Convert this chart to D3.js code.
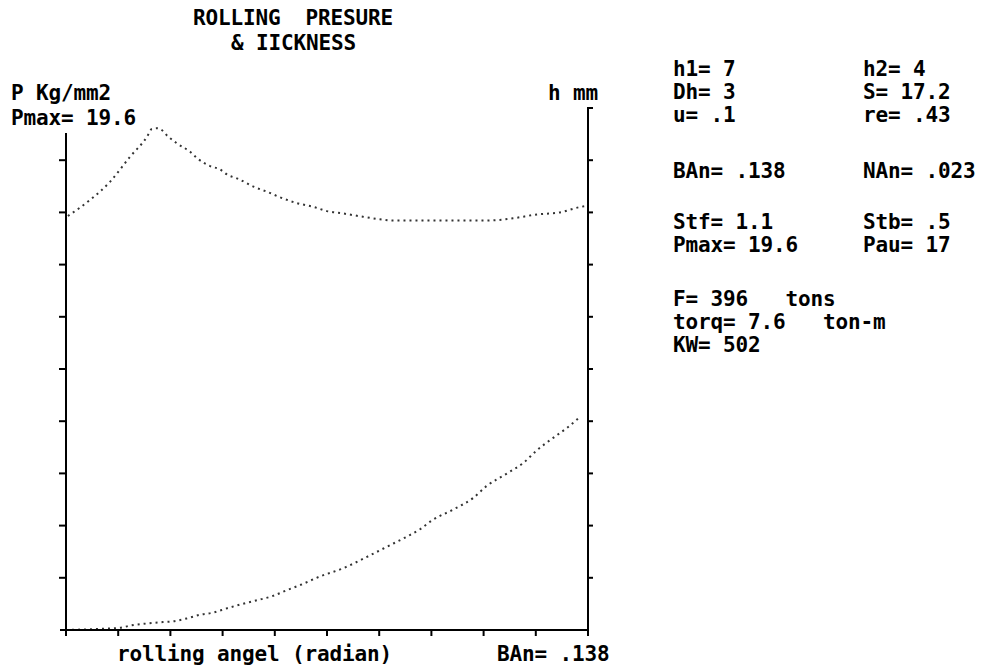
<!DOCTYPE html>
<html><head><meta charset="utf-8">
<script src="https://cdn.jsdelivr.net/npm/d3@7"></script>
<style>
html,body{margin:0;padding:0;background:#fff;}
svg text{font-family:"DejaVu Sans Mono",monospace;font-weight:bold;font-size:21px;letter-spacing:-0.14px;fill:#000;white-space:pre;}
</style></head><body><svg id="c" width="981" height="669"></svg>
<script>
// ---- data ----
const angleMax = 0.138;            // BAn, entry angle (radian)
const pressureMax = 20.4;          // P axis top (Kg/mm2)
const thickMin = 4, thickMax = 11.2; // h axis range (mm)

const pressureAngle = [0.0005,0.0063,0.0116,0.0169,0.0214,0.0227,0.0241,0.0249,0.0270,0.0293,0.0328,0.0349,0.0381,0.0407,0.0428,0.0452,0.0500,0.0531,0.0566,0.0611,0.0653,0.0690,0.0732,0.0785,0.0830,0.0865,0.0936,0.1015,0.1095,0.1139,0.1182,0.1245,0.1306,0.1359,0.1375];
const pressureValue = [16.18,16.80,17.51,18.49,19.27,19.58,19.61,19.58,19.28,19.02,18.69,18.41,18.13,18.00,17.78,17.65,17.30,17.13,16.91,16.68,16.54,16.37,16.28,16.15,16.05,16.00,16.00,16.00,16.00,16.02,16.09,16.24,16.32,16.53,16.57];

const thickAngle = [0,0.0108,0.0143,0.0169,0.0214,0.0256,0.0283,0.0320,0.0354,0.0389,0.0426,0.0460,0.0505,0.0547,0.0584,0.0619,0.0672,0.0732,0.0796,0.0849,0.0902,0.0936,0.0970,0.1023,0.1076,0.1113,0.1166,0.1208,0.1245,0.1288,0.1325,0.1359];
const thickValue = [4.00,4.02,4.03,4.06,4.09,4.11,4.12,4.16,4.21,4.24,4.30,4.35,4.41,4.47,4.55,4.62,4.74,4.85,5.01,5.15,5.29,5.39,5.52,5.66,5.82,5.99,6.16,6.30,6.48,6.65,6.79,6.94];

const titleLines = ["ROLLING  PRESURE", "& IICKNESS"];
const leftAxisLabels = ["P Kg/mm2", "Pmax= 19.6"];
const rightAxisLabel = "h mm";
const xAxisLabel = "rolling angel (radian)";
const xAxisEndLabel = "BAn= .138";
const paramsLeft = ["h1= 7","Dh= 3","u= .1","BAn= .138","Stf= 1.1","Pmax= 19.6","F= 396   tons","torq= 7.6   ton-m","KW= 502"];
const paramsRight = ["h2= 4","S= 17.2","re= .43","NAn= .023","Stb= .5","Pau= 17"];

// ---- layout ----
const svg = d3.select("#c");
svg.append("rect").attr("width",981).attr("height",669).attr("fill","#fff");
const L = 66, R = 588, B = 630, T = 108, leftTop = 133;

const x = d3.scaleLinear([0, angleMax], [L, R]);
const yP = d3.scaleLinear([0, pressureMax], [B, T]);
const yH = d3.scaleLinear([thickMin, thickMax], [B, T]);

// curves
const dotStyle = s => s.attr("fill","none").attr("stroke","#333").attr("stroke-width",2)
  .attr("stroke-dasharray","2,4");
const lineP = d3.line().x(d => x(d[0])).y(d => yP(d[1])).curve(d3.curveMonotoneX);
const lineH = d3.line().x(d => x(d[0])).y(d => yH(d[1])).curve(d3.curveMonotoneX);
svg.append("path").datum(d3.zip(pressureAngle, pressureValue)).attr("d", lineP).call(dotStyle);
svg.append("path").datum(d3.zip(thickAngle, thickValue)).attr("d", lineH).call(dotStyle);

// axes
const xTicks = d3.range(0, 11).map(i => i * angleMax / 10);
const pTicks = d3.range(1, 10).map(i => i * pressureMax / 10);
const hTicks = d3.range(1, 11).map(i => thickMin + i * (thickMax - thickMin) / 10);
function styleAxis(g){
  g.select(".domain").remove();
  g.selectAll(".tick line").attr("stroke","#000").attr("stroke-width",2);
}
svg.append("g").attr("transform",`translate(0,${B})`)
  .call(d3.axisBottom(x).tickValues(xTicks).tickSize(6).tickSizeOuter(0).tickFormat("").offset(0)).call(styleAxis);
svg.append("g").attr("transform",`translate(${L},0)`)
  .call(d3.axisLeft(yP).tickValues(pTicks).tickSize(7).tickSizeOuter(0).tickFormat("").offset(0)).call(styleAxis);
svg.append("g").attr("transform",`translate(${R},0)`)
  .call(d3.axisRight(yH).tickValues(hTicks).tickSize(5).tickSizeOuter(0).tickFormat("").offset(0)).call(styleAxis);
// axis lines
const ax = (x1,y1,x2,y2) => svg.append("line").attr("x1",x1).attr("y1",y1).attr("x2",x2).attr("y2",y2)
  .attr("stroke","#000").attr("stroke-width",2);
ax(L-6, B, R+1, B);
ax(L, leftTop, L, B+1);
ax(R, T-1, R, B+1);

// texts
const txt = (s, tx, ty) => svg.append("text").attr("x",tx).attr("y",ty).text(s);
txt(titleLines[0], 193, 25);
txt(titleLines[1], 231, 50);
txt(leftAxisLabels[0], 11, 100);
txt(leftAxisLabels[1], 11, 125);
txt(rightAxisLabel, 548, 100);
txt(xAxisLabel, 117, 661);
txt(xAxisEndLabel, 497, 661);
const rowY = [76, 99, 122, 178, 229, 252, 306, 329, 352];
paramsLeft.forEach((s,i) => txt(s, 673, rowY[i]));
paramsRight.forEach((s,i) => txt(s, 863, rowY[i]));
</script></body></html>
